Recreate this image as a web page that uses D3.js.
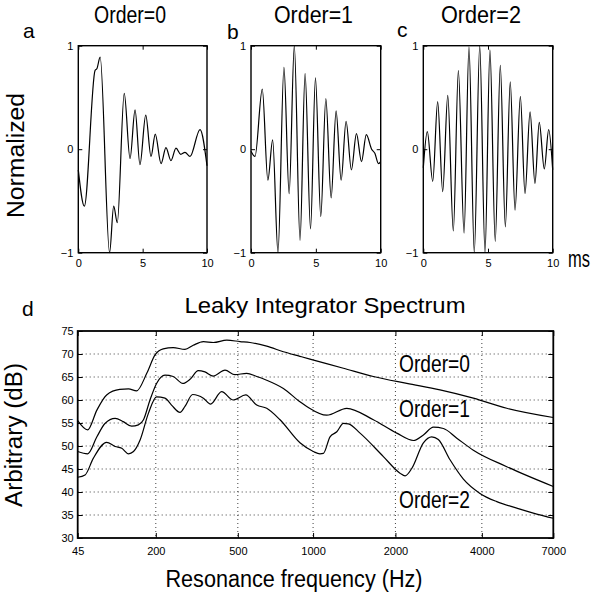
<!DOCTYPE html>
<html><head><meta charset="utf-8">
<script src="https://cdn.jsdelivr.net/npm/d3@7"></script>
<style>
body{margin:0;background:#fff}
svg{display:block}
text{font-family:"Liberation Sans",Arial,Helvetica,sans-serif;fill:#000}
</style>
</head><body>
<svg id="c" width="603" height="599"></svg>
<script>
// ---------- data ----------
const timeTicks = [0, 5, 10];
const ampTicks = [-1, 0, 1];
const panelTitles = ["Order=0", "Order=1", "Order=2"];
const panelLetters = ["a", "b", "c"];

// impulse responses (time ms, normalized amplitude): extrema
const waveOrder0 = [[0,-0.2],[0.47,-0.55],[1.3,0.76],[1.45,0.78],[1.7,0.89],[2.43,-1.0],[2.75,-0.55],[3.03,-0.71],[3.57,0.54],[4.02,-0.09],[4.41,0.38],[4.79,-0.15],[5.24,0.33],[5.65,-0.07],[5.98,0.145],[6.43,-0.14],[6.81,0.015],[7.2,-0.11],[7.59,0.01],[7.96,-0.05],[8.29,-0.03],[8.68,-0.07],[9.46,0.19],[10,-0.16]];
const waveOrder1 = [[0,-0.02],[0.31,-0.07],[0.87,0.58],[1.3,-0.30],[1.67,0.09],[2.08,-1.0],[2.54,0.79],[2.94,-0.43],[3.34,1.0],[3.78,-0.88],[4.17,0.73],[4.59,-0.77],[4.97,0.69],[5.38,-0.65],[5.77,0.49],[6.18,-0.47],[6.56,0.37],[6.95,-0.30],[7.33,0.27],[7.74,-0.20],[8.13,0.15],[8.52,-0.12],[8.89,0.14],[9.3,0.0],[9.55,-0.04],[9.83,-0.14],[10,-0.12]];
const waveOrder2 = [[0,-0.18],[0.31,0.17],[0.73,-0.31],[1.11,0.46],[1.5,-0.41],[1.89,0.52],[2.32,-0.79],[2.71,0.76],[3.15,-0.81],[3.53,0.99],[3.94,-1.0],[4.36,1.0],[4.77,-1.0],[5.15,0.96],[5.56,-0.89],[5.95,0.81],[6.34,-0.75],[6.72,0.65],[7.09,-0.59],[7.5,0.51],[7.86,-0.43],[8.25,0.36],[8.63,-0.33],[8.96,0.26],[9.35,-0.19],[9.69,0.19],[10,-0.2]];

// spectrum (frequency Hz, dB)
const freqTicks = [45, 200, 500, 1000, 2000, 4000, 7000];
const dbTicks = [30, 35, 40, 45, 50, 55, 60, 65, 70, 75];
const specLabels = ["Order=0", "Order=1", "Order=2"];
const specOrder0 = [[45,55.5],[60,53.5],[75,57.8],[92,61.1],[117,62.3],[135,62.4],[153,62.0],[177,65.8],[198,69.8],[220,71.1],[249,71.4],[286,71.0],[314,71.9],[351,72.7],[390,72.5],[448,73.0],[511,72.7],[563,72.5],[659,71.7],[768,70.5],[891,69.5],[973,68.9],[1298,66.9],[1668,65.1],[2194,63.6],[2868,62.2],[3740,60.4],[4867,58.2],[7000,56.2]];
const specOrder1 = [[45,48.8],[60,48.3],[75,52.0],[89,54.9],[108,56.0],[124,55.3],[142,54.3],[157,54.6],[169,55.7],[185,60.0],[202,63.6],[225,65.4],[249,65.1],[279,63.6],[303,64.5],[332,66.4],[357,66.1],[390,65.2],[440,66.5],[486,65.5],[545,65.8],[600,65.1],[659,64.3],[768,62.5],[891,59.6],[946,58.6],[1126,56.7],[1335,58.2],[1668,55.7],[2022,52.8],[2315,51.2],[2510,52.4],[2720,54.1],[2947,53.8],[3280,51.7],[3740,49.1],[4867,45.5],[7000,41.2]];
const specOrder2 = [[45,43.2],[56,43.7],[69,47.3],[92,50.8],[108,49.9],[121,49.5],[135,48.3],[146,48.8],[161,51.3],[181,57.1],[202,60.7],[225,60.4],[244,58.9],[270,57.3],[286,58.6],[312,61.2],[351,60.4],[379,59.1],[425,61.8],[478,60.0],[540,61.1],[600,58.9],[659,58.2],[745,55.7],[891,50.7],[1002,48.8],[1062,48.3],[1094,48.4],[1158,52.0],[1227,53.1],[1298,54.9],[1353,54.8],[1493,52.8],[1812,47.7],[2076,44.1],[2164,43.5],[2284,45.1],[2510,50.7],[2685,52.0],[2830,51.4],[3107,47.0],[3456,42.8],[3941,39.7],[4499,37.9],[5264,36.5],[6155,35.2],[7000,34.3]];

// ---------- drawing ----------
const svg = d3.select("#c");
const TICK = 11;

function addText(g, str, x, y, size, w, anchor, rot) {
  const t = g.append("text").text(str).attr("font-size", size)
    .attr("text-anchor", anchor || "middle");
  if (rot) t.attr("transform", `translate(${x},${y}) rotate(-90)`);
  else t.attr("x", x).attr("y", y);
  if (w) t.attr("textLength", w).attr("lengthAdjust", "spacingAndGlyphs");
  return t;
}

const waves = [waveOrder0, waveOrder1, waveOrder2];
const panelX = [[78.3, 207], [251, 380.7], [423.3, 552.7]];
const titlePos = [[130, 72], [313.5, 79], [481, 80]];
const letterPos = [[23, 38], [227, 39], [397, 37]];
const top0 = 45.7, bot0 = 252.7;
const yA = d3.scaleLinear().domain([-1, 1]).range([bot0, top0]);
const intFmt = d3.format("d");

waves.forEach((data, i) => {
  const [x0, x1] = panelX[i];
  const xT = d3.scaleLinear().domain([0, 10]).range([x0, x1]);
  const g = svg.append("g");
  g.append("path").datum(data)
    .attr("fill", "none").attr("stroke", "#000").attr("stroke-width", 1.2)
    .attr("d", d3.line().x(d => xT(d[0])).y(d => yA(d[1])).curve(d3.curveMonotoneX));
  const ax = [
    [d3.axisBottom(xT).tickValues(timeTicks).tickFormat(intFmt).tickSizeInner(-4).tickSizeOuter(0).tickPadding(7), `translate(0,${bot0})`],
    [d3.axisTop(xT).tickValues(timeTicks).tickSizeInner(-4).tickSizeOuter(0).tickFormat(""), `translate(0,${top0})`],
    [d3.axisLeft(yA).tickValues(ampTicks).tickFormat(intFmt).tickSizeInner(-4).tickSizeOuter(0).tickPadding(5), `translate(${x0},0)`],
    [d3.axisRight(yA).tickValues(ampTicks).tickSizeInner(-4).tickSizeOuter(0).tickFormat(""), `translate(${x1},0)`]
  ];
  ax.forEach(([a, tr]) => {
    const ag = g.append("g").attr("transform", tr).call(a);
    ag.select(".domain").remove();
    ag.selectAll("text").attr("font-size", TICK).attr("font-family", "Liberation Sans, Arial, sans-serif");
  });
  g.append("rect").attr("x", x0).attr("y", top0).attr("width", x1 - x0).attr("height", bot0 - top0)
    .attr("fill", "none").attr("stroke", "#000").attr("stroke-width", 1.4);
  addText(g, panelTitles[i], titlePos[i][0], 22.7, 23, titlePos[i][1]);
  addText(g, panelLetters[i], letterPos[i][0], letterPos[i][1], 21, null, "start");
});
addText(svg, "Normalized", 24, 155.5, 23, 125, "middle", true);
addText(svg, "ms", 568, 267, 23, 22, "start");

// ---------- spectrum ----------
const gw = f => Math.log10(f / 165.4 + 0.88);   // cochlear (Greenwood) frequency map
const L = 77.7, R = 553.3, T = 331, B = 538;
const xG = d3.scaleLinear().domain([gw(45), gw(7000)]).range([L, R]);
const xF = f => xG(gw(f));
const yD = d3.scaleLinear().domain([30, 75]).range([B, T]);
const gs = svg.append("g");

gs.selectAll("line.vg").data(freqTicks.slice(1, -1)).enter().append("line")
  .attr("x1", d => xF(d)).attr("x2", d => xF(d)).attr("y1", T).attr("y2", B)
  .attr("stroke", "#000").attr("stroke-width", 1).attr("stroke-dasharray", "1,3").attr("opacity", 0.75);
gs.selectAll("line.hg").data(dbTicks.slice(1, -1)).enter().append("line")
  .attr("y1", d => yD(d)).attr("y2", d => yD(d)).attr("x1", L).attr("x2", R)
  .attr("stroke", "#000").attr("stroke-width", 1).attr("stroke-dasharray", "1,3").attr("opacity", 0.75);

const specLine = d3.line().x(d => xF(d[0])).y(d => yD(d[1])).curve(d3.curveMonotoneX);
[specOrder0, specOrder1, specOrder2].forEach(s => {
  gs.append("path").datum(s).attr("fill", "none").attr("stroke", "#000").attr("stroke-width", 1.2).attr("d", specLine);
});

const gwTicks = freqTicks.map(gw);
const sax = [
  [d3.axisBottom(xG).tickValues(gwTicks).tickFormat((d, i) => freqTicks[i]).tickSizeInner(-5).tickSizeOuter(0).tickPadding(9), `translate(0,${B})`],
  [d3.axisTop(xG).tickValues(gwTicks).tickFormat("").tickSizeInner(-5).tickSizeOuter(0), `translate(0,${T})`],
  [d3.axisLeft(yD).tickValues(dbTicks).tickSizeInner(-5).tickSizeOuter(0).tickPadding(4), `translate(${L},0)`],
  [d3.axisRight(yD).tickValues(dbTicks).tickFormat("").tickSizeInner(-5).tickSizeOuter(0), `translate(${R},0)`]
];
sax.forEach(([a, tr]) => {
  const ag = gs.append("g").attr("transform", tr).call(a);
  ag.select(".domain").remove();
  ag.selectAll("text").attr("font-size", TICK).attr("font-family", "Liberation Sans, Arial, sans-serif");
});
gs.append("rect").attr("x", L).attr("y", T).attr("width", R - L).attr("height", B - T)
  .attr("fill", "none").attr("stroke", "#000").attr("stroke-width", 1.8);

const labelBase = [371.7, 416.7, 507.7];
specLabels.forEach((s, i) => addText(gs, s, 399, labelBase[i], 24, 71, "start"));
addText(gs, "Leaky Integrator Spectrum", 325, 313.3, 22, 281);
addText(gs, "Resonance frequency (Hz)", 294, 586.5, 23, 257);
addText(gs, "Arbitrary (dB)", 22, 435, 23, 144, "middle", true);
addText(gs, "d", 22, 316, 21, null, "start");
</script>
</body></html>
